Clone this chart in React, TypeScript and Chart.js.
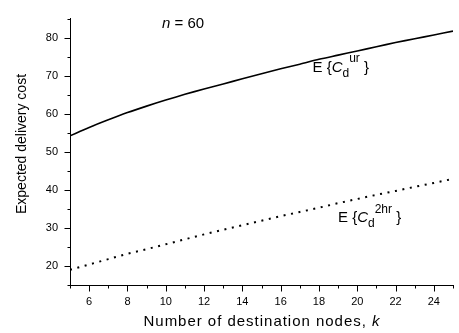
import React, { useEffect, useRef } from "react";
import { Chart, registerables } from "chart.js";

Chart.register(...registerables);

// Data
const kValues = [5, 6, 7, 8, 9, 10, 11, 12, 13, 14, 15, 16, 17, 18, 19, 20, 21, 22, 23, 24, 25];
const urCost = [54.2, 56.4, 58.4, 60.3, 62.0, 63.6, 65.1, 66.5, 67.8, 69.2, 70.5, 71.8, 73.0, 74.3, 75.4, 76.5, 77.6, 78.7, 79.7, 80.7, 81.7];
const hrCost = [19.0, 20.4, 21.8, 23.2, 24.4, 25.7, 27.0, 28.3, 29.5, 30.7, 31.9, 33.1, 34.2, 35.3, 36.5, 37.6, 38.7, 39.7, 40.8, 41.8, 42.9];
const xTickLabels = [6, 8, 10, 12, 14, 16, 18, 20, 22, 24];
const yTickLabels = [20, 30, 40, 50, 60, 70, 80];
const xMinorTicks = [5, 7, 9, 11, 13, 15, 17, 19, 21, 23, 25];
const yMinorTicks = [15, 25, 35, 45, 55, 65, 75, 85];

const FONT = "'Liberation Sans', Arial, Helvetica, sans-serif";

type Seg = { t: string; size: number; italic?: boolean; dy?: number };

function fontOf(s: Seg) {
  return `${s.italic ? "italic " : ""}${s.size}px ${FONT}`;
}

// Draws mixed-style text; `spacing` adds extra px after each character.
function drawRich(ctx: CanvasRenderingContext2D, x: number, y: number, segs: Seg[], spacing = 0) {
  let cx = x;
  ctx.textBaseline = "alphabetic";
  ctx.textAlign = "left";
  ctx.fillStyle = "#000";
  for (const s of segs) {
    ctx.font = fontOf(s);
    if (spacing === 0) {
      ctx.fillText(s.t, cx, y + (s.dy || 0));
      cx += ctx.measureText(s.t).width;
    } else {
      for (const ch of s.t) {
        ctx.fillText(ch, cx, y + (s.dy || 0));
        cx += ctx.measureText(ch).width + spacing;
      }
    }
  }
  return cx - x;
}

function charWidth(ctx: CanvasRenderingContext2D, segs: Seg[]) {
  let w = 0;
  let n = 0;
  for (const s of segs) {
    ctx.font = fontOf(s);
    for (const ch of s.t) {
      w += ctx.measureText(ch).width;
      n++;
    }
  }
  return { w, n };
}

const decorPlugin = {
  id: "decor",
  afterDraw(chart: any) {
    const ctx: CanvasRenderingContext2D = chart.ctx;
    const xs = chart.scales.x;
    const ys = chart.scales.y;
    const area = chart.chartArea;
    ctx.save();
    ctx.strokeStyle = "#000";
    ctx.lineWidth = 1;
    // y ticks (outward)
    const left = Math.round(area.left) + 0.5;
    for (const v of yTickLabels) {
      const py = Math.round(ys.getPixelForValue(v)) + 0.5;
      ctx.beginPath();
      ctx.moveTo(left - 6, py);
      ctx.lineTo(left, py);
      ctx.stroke();
    }
    for (const v of yMinorTicks) {
      const py = Math.round(ys.getPixelForValue(v)) + 0.5;
      ctx.beginPath();
      ctx.moveTo(left - 3, py);
      ctx.lineTo(left, py);
      ctx.stroke();
    }
    // x ticks (outward)
    const bottom = Math.round(area.bottom) + 0.5;
    for (const v of xTickLabels) {
      const px = Math.round(xs.getPixelForValue(v)) + 0.5;
      ctx.beginPath();
      ctx.moveTo(px, bottom);
      ctx.lineTo(px, bottom + 6);
      ctx.stroke();
    }
    for (const v of xMinorTicks) {
      const px = Math.round(xs.getPixelForValue(v)) + 0.5;
      ctx.beginPath();
      ctx.moveTo(px, bottom);
      ctx.lineTo(px, bottom + 3);
      ctx.stroke();
    }

    // X axis title (wide spacing as in reference)
    const xTitle: Seg[] = [
      { t: "Number of destination nodes, ", size: 15 },
      { t: "k", size: 15, italic: true },
    ];
    const target = 236;
    const { w, n } = charWidth(ctx, xTitle);
    const sp = Math.max(0, (target - w) / (n - 1));
    const xc = (area.left + area.right) / 2;
    drawRich(ctx, xc - target / 2, 326, xTitle, sp);

    // Y axis title
    ctx.save();
    ctx.translate(25.5, 144);
    ctx.rotate(-Math.PI / 2);
    ctx.font = `14px ${FONT}`;
    ctx.textAlign = "center";
    ctx.textBaseline = "alphabetic";
    ctx.fillStyle = "#000";
    ctx.fillText("Expected delivery cost", 0, 0);
    ctx.restore();

    // Annotations
    drawRich(ctx, 162, 28, [
      { t: "n", size: 15, italic: true },
      { t: " = 60", size: 15 },
    ]);
    drawRich(ctx, 312.5, 71.5, [
      { t: "E {", size: 15 },
      { t: "C", size: 15, italic: true },
      { t: "d", size: 12, dy: 5 },
      { t: "ur", size: 12, dy: -10 },
      { t: " }", size: 15 },
    ]);
    drawRich(ctx, 338, 221.5, [
      { t: "E {", size: 15 },
      { t: "C", size: 15, italic: true },
      { t: "d", size: 12, dy: 5 },
      { t: "2hr", size: 12, dy: -9 },
      { t: " }", size: 15 },
    ]);
    ctx.restore();
  },
};

export default function App() {
  const ref = useRef<HTMLCanvasElement | null>(null);
  useEffect(() => {
    if (!ref.current) return;
    const chart = new Chart(ref.current, {
      type: "line",
      data: {
        datasets: [
          {
            label: "E{C_d^ur}",
            data: kValues.map((k, i) => ({ x: k, y: urCost[i] })),
            borderColor: "#000",
            borderWidth: 1.6,
            pointRadius: 0,
            tension: 0.3,
            fill: false,
          },
          {
            label: "E{C_d^2hr}",
            data: kValues.map((k, i) => ({ x: k, y: hrCost[i] })),
            borderColor: "#000",
            borderWidth: 2,
            borderDash: [2, 5.6],
            pointRadius: 0,
            tension: 0,
            fill: false,
          },
        ],
      },
      options: {
        animation: false,
        responsive: false,
        devicePixelRatio: 1,
        layout: { padding: { top: 2, right: 6, left: 0, bottom: 0 } },
        plugins: {
          legend: { display: false },
          tooltip: { enabled: false },
        },
        scales: {
          x: {
            type: "linear",
            min: 5,
            max: 25,
            grid: { display: false, drawTicks: false },
            border: { display: true, color: "#000", width: 1 },
            afterBuildTicks: (s: any) => {
              s.ticks = xTickLabels.map((v) => ({ value: v }));
            },
            afterFit: (s: any) => {
              s.height = 48;
            },
            ticks: {
              color: "#000",
              font: { family: FONT, size: 11 },
              padding: 10,
              maxRotation: 0,
              autoSkip: false,
            },
          },
          y: {
            type: "linear",
            min: 15,
            max: 85,
            grid: { display: false, drawTicks: false },
            border: { display: true, color: "#000", width: 1 },
            afterBuildTicks: (s: any) => {
              s.ticks = yTickLabels.map((v) => ({ value: v }));
            },
            afterFit: (s: any) => {
              s.width = 70;
            },
            ticks: {
              color: "#000",
              font: { family: FONT, size: 11 },
              padding: 12,
              autoSkip: false,
            },
          },
        },
      },
      plugins: [decorPlugin],
    });
    return () => chart.destroy();
  }, []);
  return (
    <div style={{ position: "absolute", left: 0, top: 0, width: 459, height: 333, background: "#fff" }}>
      <canvas ref={ref} width={459} height={333} style={{ display: "block" }} />
    </div>
  );
}
